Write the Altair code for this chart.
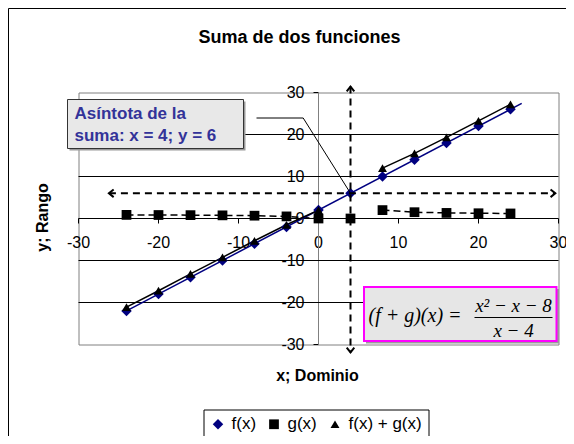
import altair as alt
import pandas as pd

# ---------------- data ----------------
x_vals = [-24, -20, -16, -12, -8, -4, 0, 4, 8, 12, 16, 20, 24]
f_vals = [-22, -18, -14, -10, -6, -2, 2, 6, 10, 14, 18, 22, 26]
g_vals = [0.86, 0.83, 0.8, 0.75, 0.67, 0.5, 0, 0, 2, 1.5, 1.33, 1.25, 1.2]
fg_vals = [-21.1, -17.2, -13.2, -9.25, -5.3, -1.5, 2, None, 12, 15.5, 19.3, 23.25, 27.2]
segment_ids = ["left"] * 7 + ["mid"] + ["right"] * 5

series_names = ["f(x)", "g(x)", "f(x) + g(x)"]
series_colors = ["#000080", "#000000", "#000000"]
series_shapes = ["diamond", "square", "triangle-up"]
series_sizes = [110, 80, 130]

oblique_x = [-24, 25.4]
oblique_y = [-22, 27.4]

asym_x = 4
asym_x_span = [31.4, -31.9]
asym_y = 6
asym_y_span = [-26.2, 29.6]

axis_ticks = [-30, -20, -10, 0, 10, 20, 30]
grid_y = [-20, -10, 10, 20]

title_text = "Suma de dos funciones"
x_title = "x; Dominio"
y_title = "y; Rango"
note_lines = ["Asíntota de la", "suma: x = 4; y = 6"]
formula_left = "(f + g)(x) ="
formula_num = "x² − x − 8"
formula_den = "x − 4"

# ---------------- layout ----------------
W, H = 480, 252
DOM = [-30, 30]
FONT = "Liberation Sans"


def px(v):
    return (v - DOM[0]) / (DOM[1] - DOM[0]) * W


def py(v):
    return (DOM[1] - v) / (DOM[1] - DOM[0]) * H


xscale = alt.Scale(domain=DOM, nice=False, zero=False)
yscale = alt.Scale(domain=DOM, nice=False, zero=False)
xaxis = alt.Axis(values=axis_ticks, orient="bottom", offset=-H / 2, grid=False, title=None,
                 domainColor="black", tickColor="black", tickSize=5, labelPadding=11,
                 labelFontSize=16, labelFont=FONT, labelColor="black", labelFlush=False,
                 labelOverlap=False, labelExpr="datum.value + ''", translate=0)
yaxis = alt.Axis(values=axis_ticks, orient="left", offset=-W / 2, grid=False, title=None,
                 domainColor="#808080", tickColor="black", tickSize=5, labelPadding=9,
                 labelFontSize=16, labelFont=FONT, labelColor="black", labelFlush=False,
                 labelOverlap=False, labelExpr="datum.value + ''", translate=0)


def X(field="x"):
    return alt.X(f"{field}:Q", scale=xscale, axis=xaxis)


def Y(field="y"):
    return alt.Y(f"{field}:Q", scale=yscale, axis=yaxis)


one = pd.DataFrame({"k": [0]})

# ---------------- data frames ----------------
df_g = pd.DataFrame({"x": x_vals, "y": g_vals, "seg": segment_ids})
df_fg = pd.DataFrame({"x": x_vals, "y": fg_vals, "seg": segment_ids}).dropna()
df_obl = pd.DataFrame({"x": oblique_x, "y": oblique_y})

rows = []
for name, vals in zip(series_names, [f_vals, g_vals, fg_vals]):
    for xv, yv in zip(x_vals, vals):
        if yv is not None:
            rows.append({"x": xv, "y": yv, "serie": name})
df_pts = pd.DataFrame(rows)

df_grid = pd.DataFrame({"y": grid_y})
df_vasym = pd.DataFrame({"x": [asym_x, asym_x], "y": asym_x_span})
df_hasym = pd.DataFrame({"x": asym_y_span, "y": [asym_y, asym_y]})

UP = "M-0.8,1L0,0L0.8,1"
DOWN = "M-0.8,-1L0,0L0.8,-1"
LEFT = "M1,-0.8L0,0L1,0.8"
RIGHT = "M-1,-0.8L0,0L-1,0.8"
df_arrows = pd.DataFrame({
    "x": [asym_x, asym_x, asym_y_span[0], asym_y_span[1]],
    "y": [asym_x_span[0], asym_x_span[1], asym_y, asym_y],
    "path": [UP, DOWN, LEFT, RIGHT],
})

# ---------------- layers ----------------
grid = alt.Chart(df_grid).mark_rule(color="black", strokeWidth=1).encode(y=Y())

g_line = alt.Chart(df_g).mark_line(color="black", strokeWidth=1.5, strokeDash=[7, 4]).encode(
    x=X(), y=Y(), detail="seg:N")
f_line = alt.Chart(df_obl).mark_line(color="#000080", strokeWidth=1.5).encode(x=X(), y=Y())
fg_line = alt.Chart(df_fg).mark_line(color="black", strokeWidth=1.5).encode(
    x=X(), y=Y(), detail="seg:N")

points = alt.Chart(df_pts).mark_point(filled=True, opacity=1).encode(
    x=X(), y=Y(),
    color=alt.Color("serie:N", scale=alt.Scale(domain=series_names, range=series_colors),
                    legend=alt.Legend(title=None)),
    shape=alt.Shape("serie:N", scale=alt.Scale(domain=series_names, range=series_shapes),
                    legend=alt.Legend(title=None)),
    size=alt.Size("serie:N", scale=alt.Scale(domain=series_names, range=series_sizes), legend=None),
)

vasym = alt.Chart(df_vasym).mark_line(color="black", strokeWidth=2, strokeDash=[7, 5]).encode(x=X(), y=Y())
hasym = alt.Chart(df_hasym).mark_line(color="black", strokeWidth=2, strokeDash=[7, 5]).encode(x=X(), y=Y())
arrows = alt.Chart(df_arrows).mark_point(filled=False, stroke="black", strokeWidth=2, size=90, opacity=1).encode(
    x=X(), y=Y(), shape=alt.Shape("path:N", scale=None))

# outer frame (left and top edges visible; right/bottom run past the window)
frame = alt.Chart(one).mark_rect(fill="white", fillOpacity=0, stroke="black", strokeWidth=1).encode(
    x=alt.value(-70), x2=alt.value(W + 100), y=alt.value(-84), y2=alt.value(H + 100))

title = alt.Chart(one).mark_text(text=title_text, font=FONT, fontSize=18, fontWeight="bold",
                                 color="black", align="center", baseline="middle").encode(
    x=alt.value(221), y=alt.value(-55))
xt = alt.Chart(one).mark_text(text=x_title, font=FONT, fontSize=16, fontWeight="bold",
                              color="black", align="center", baseline="middle").encode(
    x=alt.value(239), y=alt.value(283))
yt = alt.Chart(one).mark_text(text=y_title, font=FONT, fontSize=16, fontWeight="bold", angle=270,
                              color="black", align="center", baseline="middle").encode(
    x=alt.value(-36), y=alt.value(125))

# callout box
note_shadow = alt.Chart(one).mark_rect(fill="#9a9a9a").encode(
    x=alt.value(-9), x2=alt.value(167), y=alt.value(9), y2=alt.value(58))
note_box = alt.Chart(one).mark_rect(fill="#e8e8e8", stroke="#333333", strokeWidth=1).encode(
    x=alt.value(-11), x2=alt.value(165), y=alt.value(7), y2=alt.value(56))
note1 = alt.Chart(one).mark_text(text=note_lines[0], font=FONT, fontSize=17, fontWeight="bold",
                                 color="#333399", align="left", baseline="middle").encode(
    x=alt.value(-4), y=alt.value(21))
note2 = alt.Chart(one).mark_text(text=note_lines[1], font=FONT, fontSize=17, fontWeight="bold",
                                 color="#333399", align="left", baseline="middle").encode(
    x=alt.value(-4), y=alt.value(43))
lead1 = alt.Chart(one).mark_rule(color="black", strokeWidth=1).encode(
    x=alt.value(178), x2=alt.value(224.7), y=alt.value(25.5), y2=alt.value(25.5))
lead2 = alt.Chart(one).mark_rule(color="black", strokeWidth=1).encode(
    x=alt.value(224.7), x2=alt.value(px(asym_x)), y=alt.value(25.5), y2=alt.value(py(asym_y)))

# formula box
fshadow = alt.Chart(one).mark_rect(fill="#9a9a9a").encode(
    x=alt.value(287.5), x2=alt.value(480.5), y=alt.value(196.5), y2=alt.value(251))
fbox = alt.Chart(one).mark_rect(fill="#e6e6e6", stroke="#ff00ff", strokeWidth=2).encode(
    x=alt.value(285.5), x2=alt.value(478), y=alt.value(194.5), y2=alt.value(248.5))
SERIF = "Liberation Serif"
ftxt = alt.Chart(one).mark_text(text=formula_left, font=SERIF, fontSize=20, fontStyle="italic",
                                color="black", align="left", baseline="middle").encode(
    x=alt.value(290), y=alt.value(223))
fnum = alt.Chart(one).mark_text(text=formula_num, font=SERIF, fontSize=19, fontStyle="italic",
                                color="black", align="center", baseline="middle").encode(
    x=alt.value(435), y=alt.value(213))
fden = alt.Chart(one).mark_text(text=formula_den, font=SERIF, fontSize=19, fontStyle="italic",
                                color="black", align="center", baseline="middle").encode(
    x=alt.value(435), y=alt.value(238))
fbar = alt.Chart(one).mark_rule(color="black", strokeWidth=1).encode(
    x=alt.value(396), x2=alt.value(474), y=alt.value(225), y2=alt.value(225))

chart = alt.layer(
    frame, grid, g_line, f_line, fg_line, points, vasym, hasym, arrows,
    note_shadow, note_box, note1, note2, lead1, lead2,
    fshadow, fbox, ftxt, fnum, fden, fbar, title, xt, yt,
).properties(
    width=W, height=H,
    autosize=alt.AutoSizeParams(type="none"),
    padding={"left": 70.5, "top": 84.5, "right": 7.5, "bottom": 91.5},
    background="white",
).configure_view(
    stroke="#808080", strokeWidth=1,
).configure_legend(
    orient="none", legendX=125, legendY=317, direction="horizontal",
    strokeColor="black", fillColor="white", padding=6, labelFontSize=17, labelFont=FONT,
    labelColor="black", columnPadding=9, symbolSize=110, labelOffset=5, symbolStrokeWidth=0,
)

chart.save("out.html", embed_options={"renderer": "svg", "actions": False})
